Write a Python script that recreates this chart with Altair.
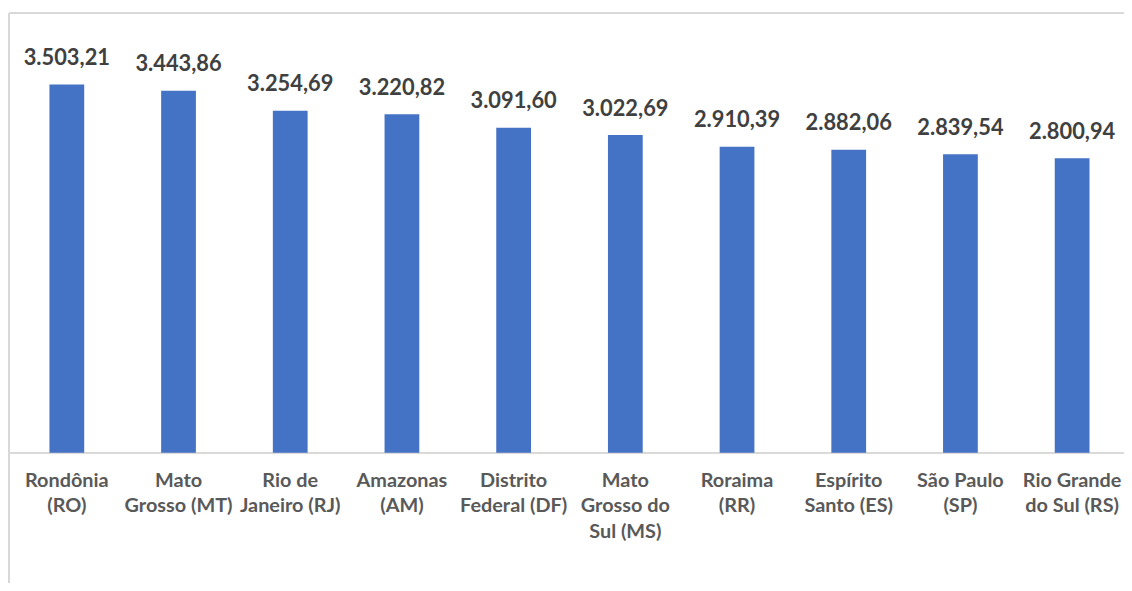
import altair as alt
import pandas as pd

states = ["Rondônia\n(RO)", "Mato\nGrosso (MT)", "Rio de\nJaneiro (RJ)", "Amazonas\n(AM)",
          "Distrito\nFederal (DF)", "Mato\nGrosso do\nSul (MS)", "Roraima\n(RR)",
          "Espírito\nSanto (ES)", "São Paulo\n(SP)", "Rio Grande\ndo Sul (RS)"]
values = [3503.21, 3443.86, 3254.69, 3220.82, 3091.60, 3022.69, 2910.39, 2882.06, 2839.54, 2800.94]


def br(v):
    s = f"{v:,.2f}"
    return s.replace(",", "X").replace(".", ",").replace("X", ".")


df = pd.DataFrame({"state": states, "value": values, "lab": [br(v) for v in values],
                   "zero": [0] * len(values)})

W, H = 1123, 572
xsc = alt.Scale(range=[2, 1127], paddingInner=0, paddingOuter=0)
ysc = alt.Scale(domain=[0, 4000], range=[443, 19.4], nice=False, zero=True)

base = alt.Chart(df)
X = alt.X("state:N", sort=None, scale=xsc, axis=None)

bars = base.mark_bar(size=35, color="#4472C4").encode(
    x=X, y=alt.Y("value:Q", scale=ysc, axis=None)
)
vals = base.mark_text(font="Lato", fontWeight="bold", fontSize=22, color="#404040",
                      align="center", baseline="alphabetic", dy=-19.5).encode(
    x=X, y=alt.Y("value:Q", scale=ysc, axis=None), text="lab:N"
)
xlabels = base.mark_text(font="Lato", fontWeight="bold", fontSize=20, color="#595959",
                         align="center", baseline="alphabetic", dy=34, lineBreak="\n",
                         lineHeight=26).encode(
    x=X, y=alt.Y("zero:Q", scale=ysc, axis=None), text="state:N"
)
baseline = base.mark_rule(color="#d9d9d9", strokeWidth=1.5).encode(
    y=alt.Y("zero:Q", scale=ysc, axis=None)
)
frame_left = base.mark_rule(color="#d9d9d9", strokeWidth=1).encode(
    x=alt.value(0), y=alt.value(0), y2=alt.value(H + 20)
)
frame_top = base.mark_rule(color="#d9d9d9", strokeWidth=1).encode(
    y=alt.value(0), x=alt.value(0), x2=alt.value(W)
)

chart = alt.layer(frame_left, frame_top, baseline, bars, vals, xlabels).properties(
    width=W, height=H,
    autosize=alt.AutoSizeParams(type="none"),
    padding={"left": 1, "top": 3, "right": 0, "bottom": 0},
).configure_view(stroke=None)

chart.save("out.html", embed_options={"renderer": "svg", "actions": False})
